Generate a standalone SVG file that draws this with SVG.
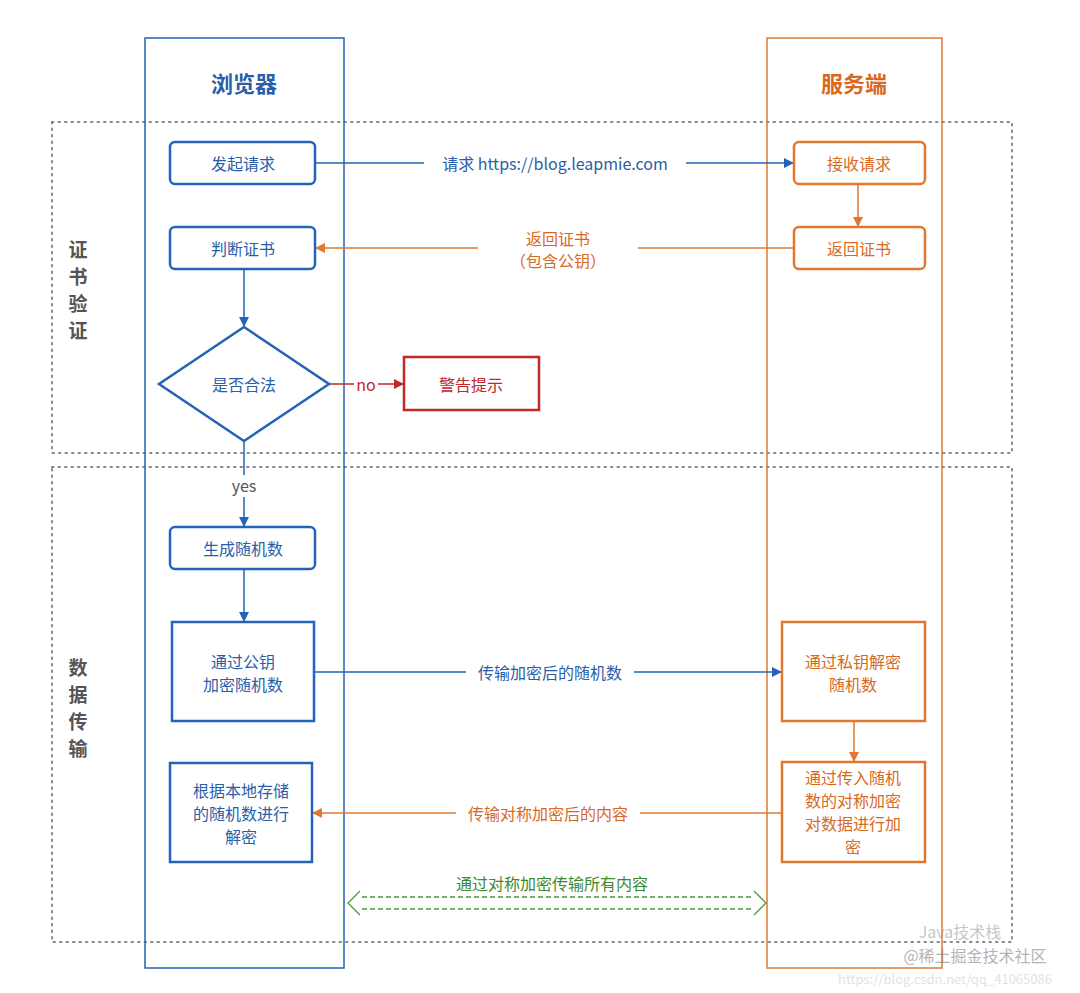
<svg xmlns="http://www.w3.org/2000/svg" width="1080" height="993" viewBox="0 0 1080 993">
<style>
text{font-family:"Noto Sans CJK SC","Noto Sans",sans-serif;font-size:16px;text-anchor:middle;dominant-baseline:central}
.b{fill:#fff;stroke:#2463b8;stroke-width:2.5}
.o{fill:#fff;stroke:#e2782f;stroke-width:2.5}
.bt{fill:#2a5ea8}.ot{fill:#d9691f}
.side{font-size:19px;font-weight:bold;fill:#555}
.sec{fill:none;stroke:#888;stroke-width:2;stroke-dasharray:1.5 5;stroke-linecap:round}
.lb{stroke:#2463b8;stroke-width:1.5;fill:none}
.lo{stroke:#e2782f;stroke-width:1.5;fill:none}
</style>
<defs>
<marker id="ab" viewBox="0 0 10 10" refX="9" refY="5" markerWidth="10" markerHeight="10" markerUnits="userSpaceOnUse" orient="auto"><path d="M0,0L10,5L0,10z" fill="#2463b8"/></marker>
<marker id="ao" viewBox="0 0 10 10" refX="9" refY="5" markerWidth="10" markerHeight="10" markerUnits="userSpaceOnUse" orient="auto"><path d="M0,0L10,5L0,10z" fill="#e2782f"/></marker>
<marker id="ar" viewBox="0 0 10 10" refX="9" refY="5" markerWidth="12" markerHeight="10" markerUnits="userSpaceOnUse" orient="auto"><path d="M0,0L10,5L0,10z" fill="#c0282a"/></marker>
</defs>
<rect width="1080" height="993" fill="#fff"/>
<g id="sections">
<rect class="sec" x="52" y="122" width="960" height="331"/>
<rect class="sec" x="52" y="467" width="960" height="475"/>
<text x="78" y="248" class="side">证</text>
<text x="78" y="275" class="side">书</text>
<text x="78" y="302" class="side">验</text>
<text x="78" y="329" class="side">证</text>
<text x="78" y="666" class="side">数</text>
<text x="78" y="693" class="side">据</text>
<text x="78" y="720" class="side">传</text>
<text x="78" y="747" class="side">输</text>
</g>
<g id="lane-browser"><rect x="145" y="38" width="199" height="930" fill="none" stroke="#2463b8" stroke-width="1.5"/><text x="244" y="82" class="bt" style="font-size:22px;font-weight:bold">浏览器</text></g>
<g id="lane-server"><rect x="767" y="38" width="175" height="930" fill="none" stroke="#e2782f" stroke-width="1.5"/><text x="854" y="82" class="ot" style="font-size:22px;font-weight:bold">服务端</text></g>
<g id="connectors">
<line class="lb" x1="315" y1="163" x2="793" y2="163" marker-end="url(#ab)"/>
<rect x="424" y="152" width="262" height="22" fill="#fff"/>
<text x="555" y="163" class="bt">请求 https://blog.leapmie.com</text>
<line class="lo" x1="794" y1="248" x2="316" y2="248" marker-end="url(#ao)"/>
<rect x="478" y="229" width="160" height="40" fill="#fff"/>
<text x="558" y="238" class="ot">返回证书</text>
<text x="558" y="260" class="ot">（包含公钥）</text>
<line class="lo" x1="858" y1="184" x2="858" y2="226" marker-end="url(#ao)"/>
<line class="lb" x1="244" y1="269" x2="244" y2="326" marker-end="url(#ab)"/>
<line x1="329" y1="384" x2="403" y2="384" stroke="#c0282a" stroke-width="1.5" marker-end="url(#ar)"/>
<rect x="354" y="374" width="24" height="20" fill="#fff"/>
<text x="366" y="384" style="fill:#c0282a">no</text>
<line class="lb" x1="244" y1="441" x2="244" y2="526" marker-end="url(#ab)"/>
<rect x="226" y="475" width="36" height="22" fill="#fff"/>
<text x="244" y="485" style="fill:#555">yes</text>
<line class="lb" x1="244" y1="569" x2="244" y2="621" marker-end="url(#ab)"/>
<line class="lb" x1="314" y1="672" x2="781" y2="672" marker-end="url(#ab)"/>
<rect x="466" y="661" width="168" height="22" fill="#fff"/>
<text x="550" y="672" class="bt">传输加密后的随机数</text>
<line class="lo" x1="854" y1="721" x2="854" y2="761" marker-end="url(#ao)"/>
<line class="lo" x1="782" y1="813" x2="313" y2="813" marker-end="url(#ao)"/>
<rect x="456" y="802" width="184" height="22" fill="#fff"/>
<text x="548" y="813" class="ot">传输对称加密后的内容</text>
<g fill="none" stroke="#4a9a3a" stroke-width="1.3">
<path d="M362,897H752M362,909H752" stroke-dasharray="5 3"/>
<path d="M360,891L348,903L360,915M754,891L766,903L754,915"/>
</g>
<text x="552" y="883" style="fill:#3d8a2e">通过对称加密传输所有内容</text>
</g>
<g id="n1"><rect class="b" x="170" y="142" width="145" height="42" rx="5"/><text x="243" y="163" class="bt">发起请求</text></g>
<g id="n2"><rect class="b" x="170" y="227" width="145" height="42" rx="5"/><text x="243" y="248" class="bt">判断证书</text></g>
<g id="n3"><path class="b" d="M244,327L329,384L244,441L159,384Z"/><text x="244" y="384" class="bt">是否合法</text></g>
<g id="n4"><rect x="404" y="357" width="135" height="53" fill="#fff" stroke="#c0282a" stroke-width="2.5"/><text x="471" y="384" style="fill:#c0282a">警告提示</text></g>
<g id="n5"><rect class="b" x="170" y="527" width="145" height="42" rx="5"/><text x="243" y="548" class="bt">生成随机数</text></g>
<g id="n6"><rect class="b" x="172" y="622" width="142" height="99"/><text x="243" y="661" class="bt">通过公钥</text><text x="243" y="684" class="bt">加密随机数</text></g>
<g id="n7"><rect class="b" x="170" y="763" width="142" height="99"/><text x="241" y="790" class="bt">根据本地存储</text><text x="241" y="813" class="bt">的随机数进行</text><text x="241" y="836" class="bt">解密</text></g>
<g id="s1"><rect class="o" x="794" y="142" width="131" height="42" rx="5"/><text x="859" y="163" class="ot">接收请求</text></g>
<g id="s2"><rect class="o" x="794" y="227" width="131" height="42" rx="5"/><text x="859" y="248" class="ot">返回证书</text></g>
<g id="s3"><rect class="o" x="782" y="622" width="143" height="99"/><text x="853" y="661" class="ot">通过私钥解密</text><text x="853" y="684" class="ot">随机数</text></g>
<g id="s4"><rect class="o" x="782" y="762" width="143" height="100"/><text x="853" y="777" class="ot">通过传入随机</text><text x="853" y="800" class="ot">数的对称加密</text><text x="853" y="823" class="ot">对数据进行加</text><text x="853" y="846" class="ot">密</text></g>
<g id="watermark" opacity="0.55">
<text x="960" y="931" style="font-size:16px;fill:#999">Java技术栈</text>
<text x="975" y="955" style="font-size:16px;fill:#777">@稀土掘金技术社区</text>
<text x="945" y="978" style="font-size:13px;fill:#ccc">https://blog.csdn.net/qq_41065086</text>
</g>
</svg>
